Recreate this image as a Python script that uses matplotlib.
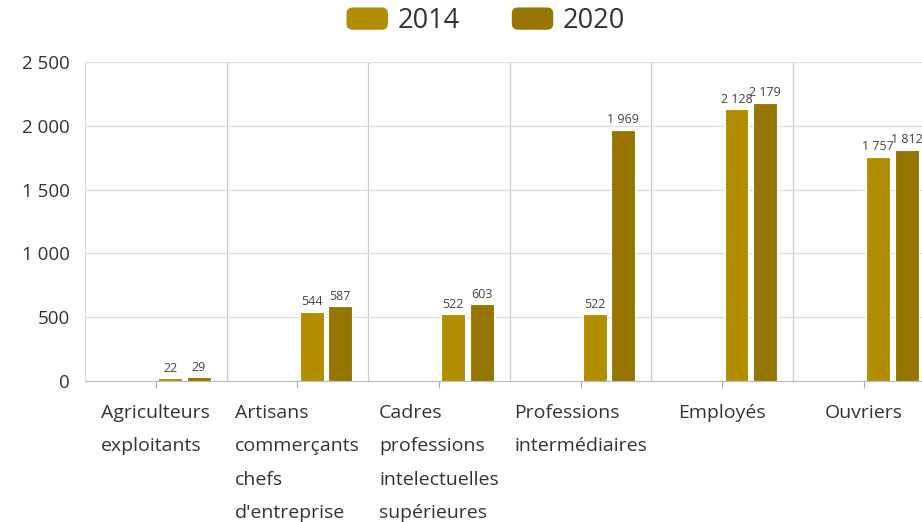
import matplotlib
matplotlib.use("Agg")
import matplotlib.pyplot as plt
import matplotlib.transforms as mtransforms
from matplotlib.patches import Patch, FancyBboxPatch
from matplotlib.legend_handler import HandlerPatch

categories = ["Agriculteurs\nexploitants", "Artisans\ncommerçants\nchefs\nd'entreprise",
              "Cadres\nprofessions\nintelectuelles\nsupérieures", "Professions\nintermédiaires",
              "Employés", "Ouvriers"]
series_names = ["2014", "2020"]
values_2014 = [22, 544, 522, 522, 2128, 1757]
values_2020 = [29, 587, 603, 1969, 2179, 1812]
yticks = [0, 500, 1000, 1500, 2000, 2500]
colors = ["#B08E00", "#967600"]

plt.rcParams['font.family'] = ['Open Sans', 'DejaVu Sans']

fig = plt.figure(figsize=(9.22, 5.22), dpi=100)
ax = fig.add_axes([85/922, 1-381/522, 1-85/922, (381-62)/522])

band_px = 141.6
def fmt(v):
    return f"{v:,}".replace(",", " ")

n = len(categories)
x = list(range(n))
bw = 24/band_px
off1 = 2.3/band_px + bw/2
off2 = off1 + 28.5/band_px
for vals, off, col in [(values_2014, off1, colors[0]), (values_2020, off2, colors[1])]:
    xs = [i + off for i in x]
    bars = ax.bar(xs, vals, width=bw, color=col, edgecolor="white", linewidth=0.8, zorder=3)
    for b, v in zip(bars, vals):
        ax.annotate(fmt(v), (b.get_x() + b.get_width()/2, v), xytext=(0, 2.5),
                    textcoords="offset points", ha="center", va="bottom",
                    fontsize=9, color="#444444", zorder=4)

ax.set_ylim(0, 2500)
ax.set_xlim(-0.5, -0.5 + (922-85)/band_px)
ax.set_yticks(yticks)
ax.set_yticklabels([fmt(v) for v in yticks], fontsize=13.5, color="#333333")
ax.tick_params(axis="y", length=0, pad=11)
ax.set_xticks(x)
ax.set_xticklabels([])
ax.tick_params(axis="x", length=5, color="#aaaaaa", width=0.8)
ax.set_xticks([i + 0.5 for i in x[:-1]], minor=True)
ax.tick_params(axis="x", which="minor", length=0)
ax.grid(axis="y", color="#dddddd", linewidth=0.9, zorder=0)
ax.grid(axis="x", which="minor", color="#cccccc", linewidth=0.9, zorder=0)
for s in ["top", "right"]:
    ax.spines[s].set_visible(False)
ax.spines["left"].set_color("#dddddd")
ax.spines["bottom"].set_color("#bbbbbb")
ax.spines["bottom"].set_zorder(5)

trans = mtransforms.blended_transform_factory(ax.transData, ax.transAxes)
for i, lab in enumerate(categories):
    ax.text(i, -23/319, lab, transform=trans, ha="center", va="top", multialignment="left",
            fontsize=14, color="#333333", linespacing=2.09)

def round_patch(legend, orig_handle, xdescent, ydescent, width, height, fontsize):
    return FancyBboxPatch((-xdescent, -ydescent), width, height,
                          boxstyle="round,pad=0,rounding_size=4")

handles = [Patch(facecolor=c, edgecolor=c, label=l) for c, l in zip(colors, series_names)]
fig.legend(handles=handles, loc="center", bbox_to_anchor=(486/922, 1-21/522), ncol=2,
           frameon=False, fontsize=19.5, handlelength=1.48, handleheight=0.81,
           handletextpad=0.37, columnspacing=1.96,
           handler_map={Patch: HandlerPatch(patch_func=round_patch)},
           labelcolor="#333333")

fig.savefig("out.png", dpi=100)
